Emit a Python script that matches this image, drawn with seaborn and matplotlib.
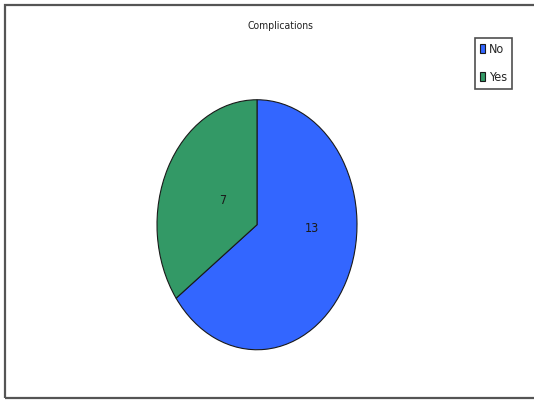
import matplotlib
matplotlib.use("Agg")
import matplotlib.pyplot as plt
from matplotlib.patches import Rectangle, Patch
import seaborn as sns

# Complications counts
categories = ["No", "Yes"]
counts = [13, 7]
colors = ["#3366FF", "#339966"]
title = "Complications"

sns.set_theme(style="white")
plt.rcParams["font.family"] = ["Liberation Sans Narrow", "DejaVu Sans"]
plt.rcParams["font.stretch"] = "condensed"

fig = plt.figure(figsize=(5.34, 4.0), dpi=100)
fig.patch.set_facecolor("white")

# Outer frame (open on the right edge)
fig.add_artist(Rectangle((5 / 534, 2.5 / 400), 1.0, 393 / 400, transform=fig.transFigure,
                         fill=False, edgecolor="#555555", linewidth=1.6))

ax = fig.add_axes([132 / 534, 19 / 400, 250 / 534, 312.5 / 400])
total = sum(counts)
wedges, texts, autotexts = ax.pie(
    counts, colors=colors, startangle=90, counterclock=False,
    autopct=lambda p: f"{round(p * total / 100)}",
    wedgeprops=dict(edgecolor="#1a1a1a", linewidth=0.8),
    textprops=dict(fontsize=9, color="#1a1a1a"),
)
ax.set_aspect("auto")
ax.set_xlim(-1.25, 1.25)
ax.set_ylim(-1.25, 1.25)

# Value label placement inside each slice
label_pos = {"No": (0.55, -0.03), "Yes": (-0.34, 0.19)}
for cat, t in zip(categories, autotexts):
    t.set_position(label_pos[cat])
    t.set_ha("center")
    t.set_va("center")

fig.text(280 / 534, 1 - 26 / 400, title, ha="center", va="center", fontsize=7.5, color="#222222")

handles = [Patch(facecolor=c, edgecolor="#1a1a1a", linewidth=0.8) for c in colors]
leg = fig.legend(handles, categories, loc="upper right",
                 bbox_to_anchor=(512 / 534, 1 - 38 / 400),
                 frameon=True, fancybox=False, fontsize=9,
                 handlelength=0.45, handleheight=0.8, handletextpad=0.3,
                 labelspacing=1.2, borderpad=0.4, borderaxespad=0)
leg.get_frame().set_edgecolor("#222222")
leg.get_frame().set_linewidth(1.2)

fig.savefig("out.png", dpi=100, facecolor="white")
